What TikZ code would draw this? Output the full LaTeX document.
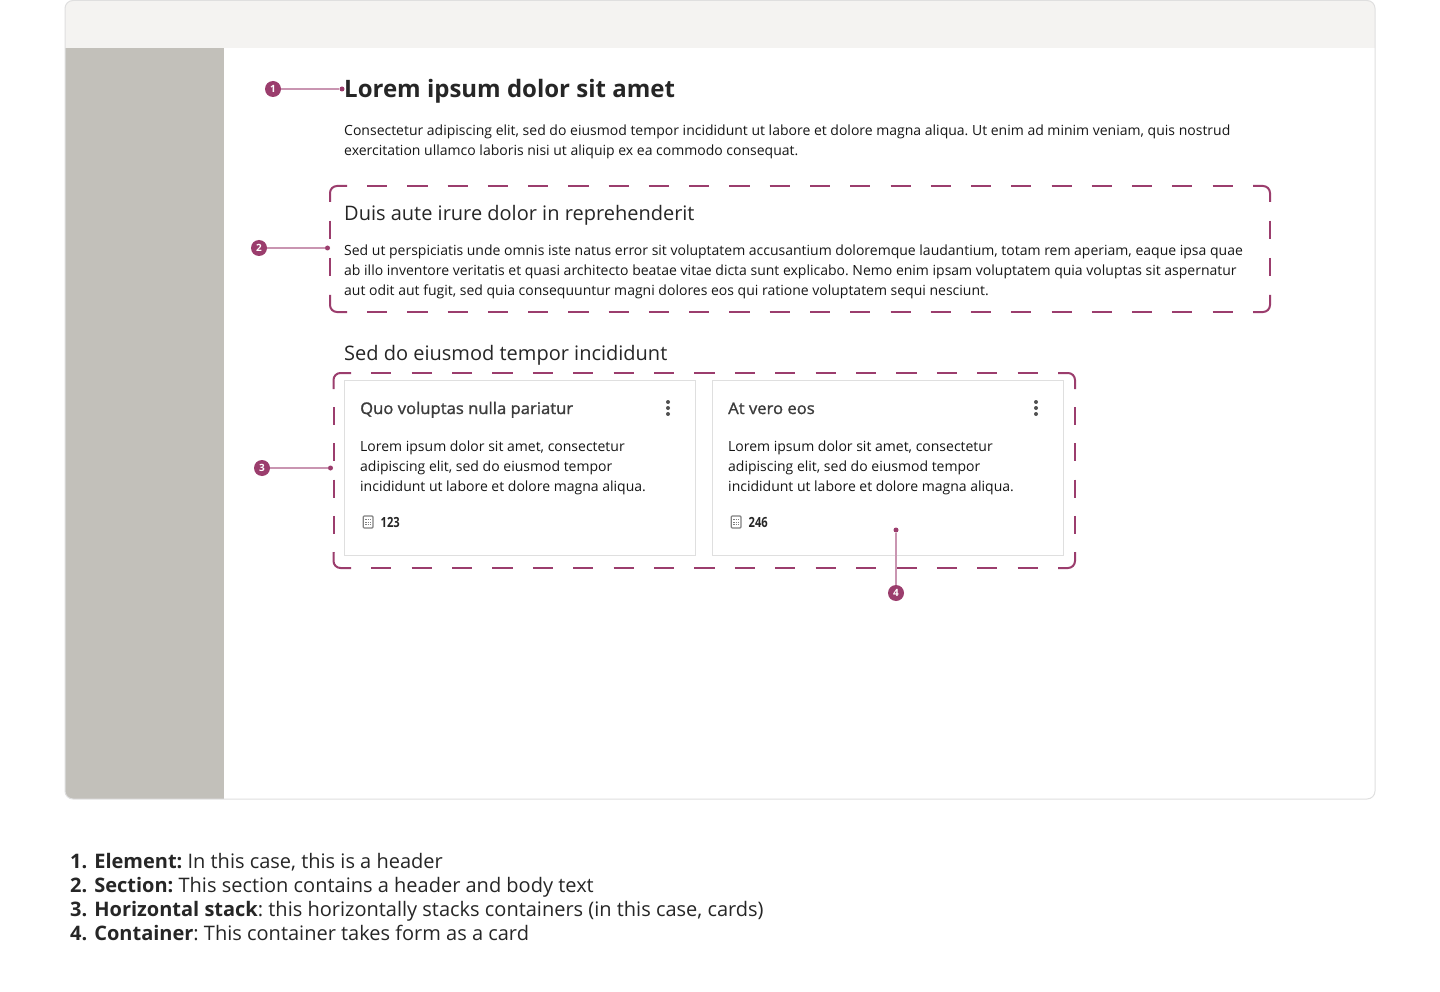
\documentclass[tikz,border=0pt]{standalone}
\usepackage{fontspec}
\setmainfont{Open Sans}
\newfontfamily\semifont[FakeBold=1.2,FakeStretch=1.04]{Open Sans}
\frenchspacing
\usetikzlibrary{positioning}
\definecolor{pinplum}{HTML}{9B3D6D}
\definecolor{pinpale}{HTML}{C995B1}
\definecolor{inktext}{HTML}{262626}
\definecolor{bodyink}{HTML}{161616}
\definecolor{frameline}{HTML}{DFDFDF}
\definecolor{topbar}{HTML}{F4F3F1}
\definecolor{sidebar}{HTML}{C2C0BA}
\tikzset{
  badge/.style={circle,fill=pinplum,text=white,inner sep=0pt,minimum size=16pt,font=\fontsize{10}{10}\selectfont\bfseries},
  pindot/.style={circle,fill=pinplum,inner sep=0pt,minimum size=5pt},
  pinline/.style={pinpale,line width=1.5pt},
  bodytext/.style={anchor=base west,inner sep=0pt,align=left,text=bodyink,font=\fontsize{14}{20}\selectfont},
  headtext/.style={anchor=base west,inner sep=0pt,text=inktext,font=\fontsize{20}{24}\selectfont},
  cardtitle/.style={anchor=base west,inner sep=0pt,text=inktext!90,font=\fontsize{16}{20}\semifont},
  countext/.style={anchor=base west,inner sep=0pt,text=inktext,xscale=0.8,font=\fontsize{14}{20}\selectfont\bfseries},
  legendtext/.style={anchor=base west,inner sep=0pt,text=inktext,font=\fontsize{20}{24}\selectfont},
  cardbox/.style={draw=frameline,line width=1pt,fill=white},
}
\begin{document}
\begin{tikzpicture}[x=1pt,y=-1pt]
\useasboundingbox (0,0) rectangle (1440,992);
\fill[white] (0,0) rectangle (1440,992);
% window
\begin{scope}
    \clip[rounded corners=8pt] (65,0.5) rectangle (1375,799);
    \fill[topbar] (65,0) rectangle (1375,48);
    \fill[sidebar] (65,48) rectangle (224,799);
\end{scope}
\draw[frameline,line width=1pt,rounded corners=8pt] (65,0.5) rectangle (1375,799);
% page text
\node[anchor=base west,inner sep=0pt,text=inktext,font=\fontsize{24}{28}\selectfont\bfseries] (titletext) at (344,97.5) {Lorem ipsum dolor sit amet};
\node[bodytext] (introtext) at (344,155.6) {Consectetur adipiscing elit, sed do eiusmod tempor incididunt ut labore et dolore magna aliqua. Ut enim ad minim veniam, quis nostrud\\exercitation ullamco laboris nisi ut aliquip ex ea commodo consequat.};
\node[headtext] (sectionhead) at (344,220.8) {Duis aute irure dolor in reprehenderit};
\node[bodytext] (sectiontext) at (344,295.4) {Sed ut perspiciatis unde omnis iste natus error sit voluptatem accusantium doloremque laudantium, totam rem aperiam, eaque ipsa quae\\ab illo inventore veritatis et quasi architecto beatae vitae dicta sunt explicabo. Nemo enim ipsam voluptatem quia voluptas sit aspernatur\\aut odit aut fugit, sed quia consequuntur magni dolores eos qui ratione voluptatem sequi nesciunt.};
\node[headtext] (stackhead) at (344,360) {Sed do eiusmod tempor incididunt};
% cards
\foreach \cx/\ctitle/\ccount in {344.5/Quo voluptas nulla pariatur/123,712.5/At vero eos/246} {
    \draw[cardbox] (\cx,380.5) rectangle ++(351,175);
    \node[cardtitle] at (\cx+15.5,414) {\ctitle};
    \node[bodytext] at (\cx+15.5,491) {Lorem ipsum dolor sit amet, consectetur\\adipiscing elit, sed do eiusmod tempor\\incididunt ut labore et dolore magna aliqua.};
    \foreach \dy in {402,408,414} {
        \fill[inktext!80] (\cx+323.5,\dy) circle[radius=2pt];
    }
    \draw[gray,line width=1.1pt,rounded corners=1pt] (\cx+18.7,516) rectangle ++(9.8,12);
    \foreach \gy in {519.5,522,524.5} {
        \draw[gray,line width=0.8pt,dash pattern=on 1.4pt off 1pt] (\cx+20.8,\gy) -- ++(5.5,0);
    }
    \node[countext] at (\cx+36,527) {\ccount};
}
% dashed outlines
\foreach \xa/\ya/\xb/\yb/\xc/\xd/\yc/\yd/\hd/\vd in {330/186/1270/312/347/1253/202/295/20.13/18.6,333.5/373/1075/568/351/1058/389/552/20.2/18.11} {
    \draw[pinplum,line width=2pt,rounded corners=7pt]
        (\xa,\yc) -- (\xa,\ya) -- (\xc,\ya)
        (\xd,\ya) -- (\xb,\ya) -- (\xb,\yc)
        (\xb,\yd) -- (\xb,\yb) -- (\xd,\yb)
        (\xc,\yb) -- (\xa,\yb) -- (\xa,\yd);
    \draw[pinplum,line width=2pt,dash pattern=on \hd pt off \hd pt,dash phase=\hd pt]
        (\xc,\ya) -- (\xd,\ya) (\xc,\yb) -- (\xd,\yb);
    \draw[pinplum,line width=2pt,dash pattern=on \vd pt off \vd pt,dash phase=\vd pt]
        (\xa,\yc) -- (\xa,\yd) (\xb,\yc) -- (\xb,\yd);
}
% pins
\node[badge] (badgeone) at (273,89) {1};
\node[pindot] (dotone) at (342,89) {};
\node[badge] (badgetwo) at (259,248) {2};
\node[pindot] (dottwo) at (327.5,248) {};
\node[badge] (badgethree) at (262,468) {3};
\node[pindot] (dotthree) at (330.5,468) {};
\node[badge] (badgefour) at (896,593) {4};
\node[pindot] (dotfour) at (896,530) {};
\draw[pinline] (badgeone) -- (dotone);
\draw[pinline] (badgetwo) -- (dottwo);
\draw[pinline] (badgethree) -- (dotthree);
\draw[pinline] (badgefour) -- (dotfour);
% legend
\node[legendtext] (legendone) at (70,868) {\textbf{1.}\hspace{7pt}\textbf{Element: }In this case, this is a header};
\node[legendtext] (legendtwo) at (70,892) {\textbf{2.}\hspace{7pt}\textbf{Section: }This section contains a header and body text};
\node[legendtext] (legendthree) at (70,916) {\textbf{3.}\hspace{7pt}\textbf{Horizontal stack}: this horizontally stacks containers (in this case, cards)};
\node[legendtext] (legendfour) at (70,940) {\textbf{4.}\hspace{7pt}\textbf{Container}: This container takes form as a card};
\end{tikzpicture}
\end{document}
